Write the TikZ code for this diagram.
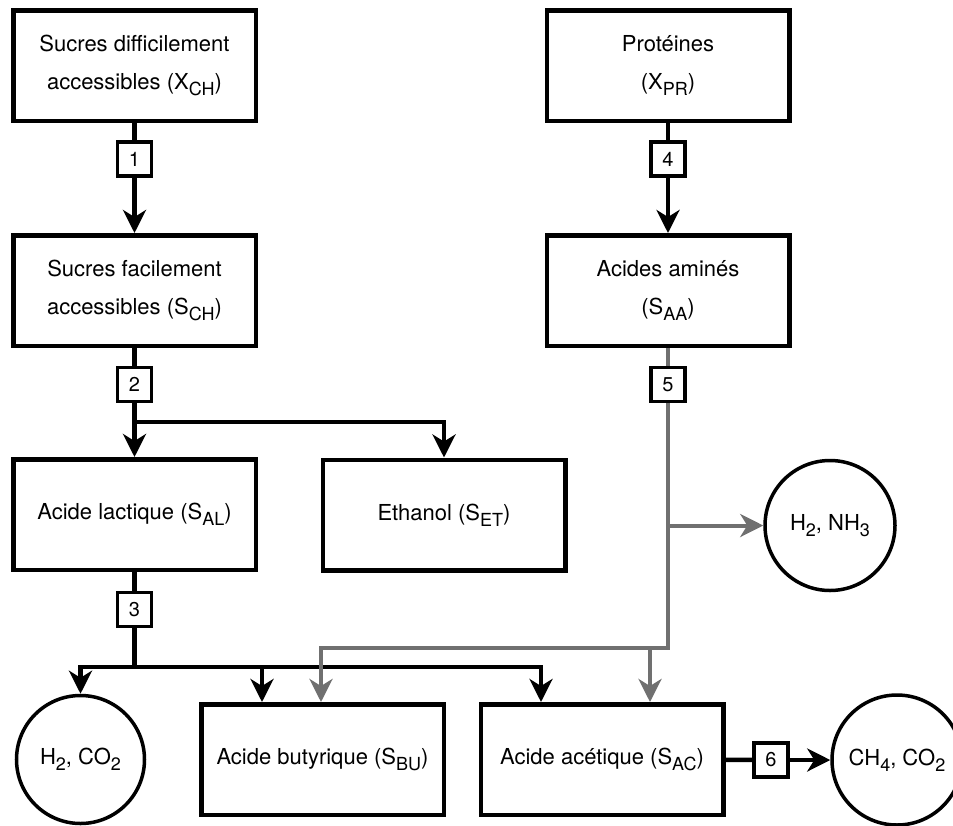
\documentclass[tikz,border=0pt]{standalone}
\usepackage{fontspec}
\setmainfont{TeX Gyre Heros}
\usetikzlibrary{arrows.meta}
\definecolor{gline}{RGB}{112,112,112}
\newcommand{\subtxt}[1]{\raisebox{-0.27em}{\fontsize{18}{18}\selectfont #1}}
\begin{document}
\begin{tikzpicture}[x=1pt,y=-1pt,
  bigbox/.style={draw=black,line width=4.5pt,minimum width=242.5pt,minimum height=110.5pt,align=center,inner sep=0pt,font=\fontsize{22}{38}\selectfont},
  numbox/.style={draw=black,line width=3.5pt,fill=white,minimum width=34pt,minimum height=34pt,inner sep=0pt,font=\fontsize{20}{20}\selectfont},
  rond/.style={draw=black,line width=3.5pt,circle,inner sep=0pt,font=\fontsize{22}{26}\selectfont},
  conn/.style={draw=black,line width=4.5pt},
  arr/.style={conn,-{Stealth[length=23pt,width=23pt,inset=7pt]}},
  gconn/.style={draw=gline,line width=4pt},
  garr/.style={gconn,-{Stealth[length=23pt,width=23pt,inset=7pt]}}]
\useasboundingbox (0,0) rectangle (953,825);
\clip (0,0) rectangle (953,825);
% main boxes
\node[bigbox] (xch) at (134.5,65.5) {Sucres difficilement\\accessibles (X\subtxt{CH})};
\node[bigbox] (sch) at (134.5,290.5) {Sucres facilement\\accessibles (S\subtxt{CH})};
\node[bigbox] (al) at (134.5,514.5) {Acide lactique (S\subtxt{AL})};
\node[bigbox] (et) at (444,515) {Ethanol (S\subtxt{ET})};
\node[bigbox] (pr) at (668,65.5) {Protéines\\(X\subtxt{PR})};
\node[bigbox] (aa) at (668,290.5) {Acides aminés\\(S\subtxt{AA})};
\node[bigbox] (bu) at (322.5,759.5) {Acide butyrique (S\subtxt{BU})};
\node[bigbox] (ac) at (602,759.5) {Acide acétique (S\subtxt{AC})};
% circles
\node[rond,minimum size=128pt] (c1) at (80.5,759.5) {H\subtxt{2}, CO\subtxt{2}};
\node[rond,minimum size=130pt] (c2) at (830,525.5) {H\subtxt{2}, NH\subtxt{3}};
\node[rond,minimum size=130pt] (c3) at (897,760) {CH\subtxt{4}, CO\subtxt{2}};
% junction coordinates
\coordinate (j2) at (134.5,422);
\coordinate (j3) at (134.5,667);
\coordinate (bb) at (262,667);
\coordinate (ab) at (541,667);
\coordinate (g1) at (668,648);
\coordinate (g2) at (321,648);
\coordinate (gh) at (668,525.5);
\coordinate (ga) at (650,648);
% black connectors
\draw[conn] (xch) -- (134.5,159);
\draw[conn] (sch) -- (134.5,384.5);
\draw[conn] (al) -- (134.5,609.5);
\draw[conn] (pr) -- (668,159);
\draw[arr] (134.5,159) -- (sch);
\draw[arr] (668,159) -- (aa);
\draw[arr] (134.5,384.5) -- (al);
\draw[arr] (j2) -| (et);
\draw[conn] (134.5,609.5) -- (j3);
\draw[arr] (j3) -| (c1);
\draw[arr] (bb) -- (bb |- bu.north);
\draw[arr] (j3) -- (ab) -- (ab |- ac.north);
\draw[conn] (ac) -- (771,760);
\draw[arr] (771,760) -- (c3);
% gray connectors
\draw[gconn] (aa) -- (668,384.5);
\draw[garr] (668,384.5) -- (g1) -- (g2) -- (g2 |- bu.north);
\draw[garr] (gh) -- (c2);
\draw[garr] (ga) -- (ga |- ac.north);
% number boxes
\node[numbox] (n1) at (134.5,159) {1};
\node[numbox] (n2) at (134.5,384.5) {2};
\node[numbox] (n3) at (134.5,609.5) {3};
\node[numbox] (n4) at (668,159) {4};
\node[numbox] (n5) at (668,384.5) {5};
\node[numbox] (n6) at (771,760) {6};
\end{tikzpicture}
\end{document}
